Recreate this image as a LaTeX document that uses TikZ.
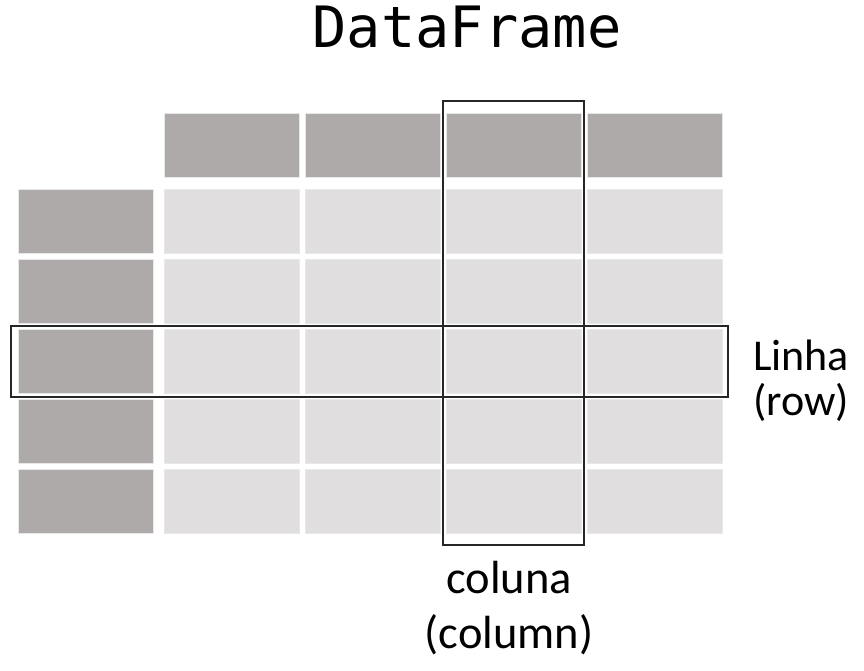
\documentclass[tikz,border=0pt]{standalone}
\usepackage{fontspec}
\usepackage{xcolor}
\usepackage{tikz}
\usetikzlibrary{positioning}
\newfontfamily\monofont{DejaVu Sans Mono}
\newfontfamily\labelfont{Carlito}
\definecolor{headgray}{HTML}{AEAAAA}
\definecolor{cellgray}{HTML}{E0DEDF}
\definecolor{edgegray}{HTML}{E9E8E8}
\tikzset{
  headcell/.style={rectangle, fill=headgray, draw=edgegray, line width=0.6pt, minimum width=135pt, minimum height=64pt, inner sep=0pt},
  datacell/.style={rectangle, fill=cellgray, draw=edgegray, line width=0.6pt, minimum width=135pt, minimum height=64pt, inner sep=0pt},
  selbox/.style={draw=black!85, line width=1.3pt},
  labeltext/.style={font=\labelfont\fontsize{44}{46}\selectfont, inner sep=0pt},
  coltext/.style={font=\labelfont\fontsize{46.5}{48}\selectfont, inner sep=0pt}
}

\begin{document}
\begin{tikzpicture}[x=1pt, y=-1pt]
    \useasboundingbox (0,0) rectangle (864,671);

    % titulo
    \node[font=\monofont\fontsize{57}{60}\selectfont, anchor=base, inner sep=0pt] (title) at (467,48) {DataFrame};

    % cabecalho das colunas
    \node[headcell] (h1) at (231.5,145) {};
    \node[headcell] (h2) at (372.5,145) {};
    \node[headcell] (h3) at (513.5,145) {};
    \node[headcell] (h4) at (654.5,145) {};

    % indice das linhas
    \node[headcell] (i1) at (85.5,221) {};
    \node[headcell] (i2) at (85.5,291) {};
    \node[headcell] (i3) at (85.5,361) {};
    \node[headcell] (i4) at (85.5,431) {};
    \node[headcell] (i5) at (85.5,501) {};

    % valores
    \node[datacell] (d11) at (231.5,221) {};
    \node[datacell] (d12) at (372.5,221) {};
    \node[datacell] (d13) at (513.5,221) {};
    \node[datacell] (d14) at (654.5,221) {};
    \node[datacell] (d21) at (231.5,291) {};
    \node[datacell] (d22) at (372.5,291) {};
    \node[datacell] (d23) at (513.5,291) {};
    \node[datacell] (d24) at (654.5,291) {};
    \node[datacell] (d31) at (231.5,361) {};
    \node[datacell] (d32) at (372.5,361) {};
    \node[datacell] (d33) at (513.5,361) {};
    \node[datacell] (d34) at (654.5,361) {};
    \node[datacell] (d41) at (231.5,431) {};
    \node[datacell] (d42) at (372.5,431) {};
    \node[datacell] (d43) at (513.5,431) {};
    \node[datacell] (d44) at (654.5,431) {};
    \node[datacell] (d51) at (231.5,501) {};
    \node[datacell] (d52) at (372.5,501) {};
    \node[datacell] (d53) at (513.5,501) {};
    \node[datacell] (d54) at (654.5,501) {};

    % destaque de uma coluna e de uma linha
    \draw[selbox] (443,101) rectangle (584,545);
    \draw[selbox] (11,326) rectangle (728,397);

    % legendas
    \node[labeltext, anchor=base west] (linha) at (753,370) {Linha};
    \node[labeltext, anchor=base west] (row) at (753,415) {(row)};
    \node[coltext, anchor=base] (coluna) at (509,593) {coluna};
    \node[coltext, anchor=base] (column) at (509,648) {(column)};
\end{tikzpicture}
\end{document}
